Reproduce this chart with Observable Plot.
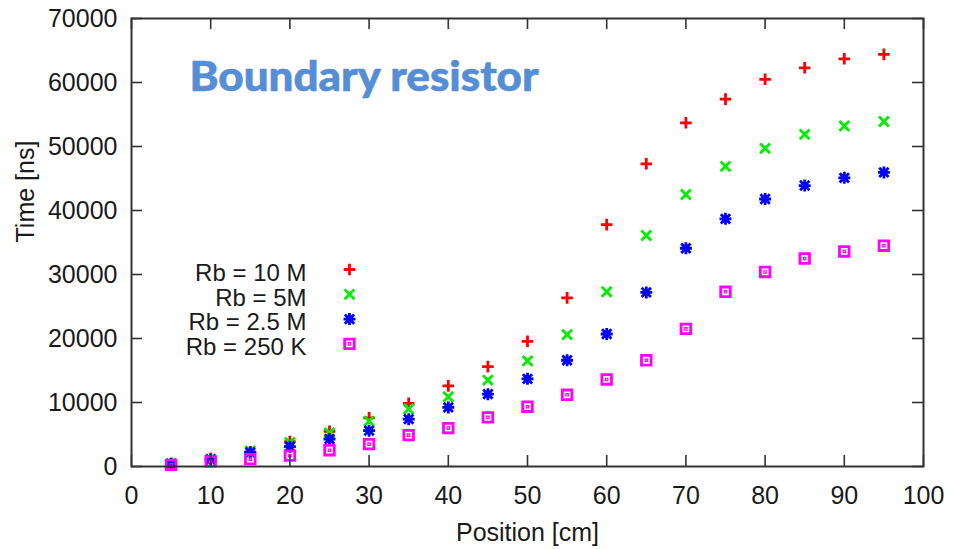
<!DOCTYPE html>
<html><head><meta charset="utf-8">
<script src="https://cdn.jsdelivr.net/npm/d3@7"></script>
<script src="https://cdn.jsdelivr.net/npm/@observablehq/plot@0.6"></script>
<style>body{margin:0;background:#fff;}#chart svg{display:block;}</style>
</head><body><div id="chart"></div>
<script>
const positions = [5,10,15,20,25,30,35,40,45,50,55,60,65,70,75,80,85,90,95];
const rb10M  = [500,1250,2300,3900,5500,7600,9860,12600,15600,19560,26350,37800,47300,53700,57400,60500,62300,63700,64400];
const rb5M   = [450,1150,2450,3750,5250,7100,8980,10900,13500,16500,20600,27300,36100,42500,46900,49700,51900,53200,53900];
const rb2_5M = [400,1100,2200,3100,4300,5600,7400,9230,11300,13700,16600,20700,27200,34100,38700,41800,43900,45100,45950];
const rb250K = [250,800,1150,1700,2550,3500,4900,6000,7670,9340,11200,13600,16600,21500,27300,30400,32500,33600,34500];
const seriesNames = ["Rb = 10 M","Rb = 5M","Rb = 2.5 M","Rb = 250 K"];
const seriesValues = [rb10M, rb5M, rb2_5M, rb250K];
const seriesColors = ["#ff0000","#00ee00","#0000ff","#ff00ff"];
const xTicks = [0,10,20,30,40,50,60,70,80,90,100];
const yTicks = [0,10000,20000,30000,40000,50000,60000,70000];
const titleText = "Boundary resistor";
const xLabel = "Position [cm]";
const yLabel = "Time [ns]";

// gnuplot-like point symbols (half-extent = r)
const rad = s => Math.sqrt(s / Math.PI);
const plusSym = {draw(c, s){const r=rad(s); c.moveTo(-r,0);c.lineTo(r,0);c.moveTo(0,-r);c.lineTo(0,r);}};
const timesSym = {draw(c, s){const r=rad(s)*0.85; c.moveTo(-r,-r);c.lineTo(r,r);c.moveTo(-r,r);c.lineTo(r,-r);}};
const starSym = {draw(c, s){const r=rad(s); const q=r*0.78; c.moveTo(-r,0);c.lineTo(r,0);c.moveTo(0,-r);c.lineTo(0,r);c.moveTo(-q,-q);c.lineTo(q,q);c.moveTo(-q,q);c.lineTo(q,-q);}};
const boxSym = {draw(c, s){const r=rad(s); c.rect(-r,-r,2*r,2*r);}};
const symbols = [plusSym, timesSym, starSym, boxSym];
const symR = [5.8, 5.8, 6, 4.8];

const rows = seriesValues.map((vals, i) => positions.map((p, j) => ({pos: p, time: vals[j], s: i})));

const font = "Liberation Sans, Arial, sans-serif";
const ink = "#1a1a1a";
const marks = [];

// data points
rows.forEach((data, i) => {
  marks.push(Plot.dot(data, {x: "pos", y: "time", symbol: symbols[i], r: symR[i], stroke: seriesColors[i], fill: "none", strokeWidth: 2.8}));
  if (i === 3) marks.push(Plot.dot(data, {x: "pos", y: "time", symbol: boxSym, r: 1.2, stroke: seriesColors[i], fill: "none", strokeWidth: 1.2}));
});

// frame and inward ticks (mirrored)
const frameH = 549 - 18 - 83, frameW = 953 - 131 - 30, tl = 11;
marks.push(Plot.ruleX(xTicks, {x: d => d, insetTop: frameH - tl, stroke: "#333", strokeWidth: 1.6}));
marks.push(Plot.ruleX(xTicks, {x: d => d, insetBottom: frameH - tl, stroke: "#333", strokeWidth: 1.6}));
marks.push(Plot.ruleY(yTicks, {y: d => d, insetRight: frameW - tl, stroke: "#333", strokeWidth: 1.6}));
marks.push(Plot.ruleY(yTicks, {y: d => d, insetLeft: frameW - tl, stroke: "#333", strokeWidth: 1.6}));
marks.push(Plot.frame({stroke: "#333", strokeWidth: 2}));

// axes
marks.push(Plot.axisX(xTicks, {tickSize: 0, tickPadding: 20, fontSize: 25, fill: ink, label: null}));
marks.push(Plot.axisY(yTicks, {tickSize: 0, tickPadding: 14, fontSize: 25, fill: ink, label: null, tickFormat: d3.format("d")}));
marks.push(Plot.text([xLabel], {text: d => d, frameAnchor: "bottom", dy: 74, lineAnchor: "bottom", fontSize: 25, fill: ink}));
marks.push(Plot.text([yLabel], {text: d => d, frameAnchor: "left", dx: -106, rotate: -90, lineAnchor: "middle", fontSize: 25, fill: ink}));

// legend
seriesNames.forEach((name, i) => {
  marks.push(Plot.text([name], {text: d => d, frameAnchor: "top-left", dx: 175, dy: 254.7 + i * 24.7, textAnchor: "end", lineAnchor: "middle", fontSize: 24, fill: ink}));
  marks.push(Plot.dot([name], {frameAnchor: "top-left", dx: 218, dy: 251 + i * 24.8, symbol: symbols[i], r: symR[i], stroke: seriesColors[i], fill: "none", strokeWidth: 2.8}));
  if (i === 3) marks.push(Plot.dot([name], {frameAnchor: "top-left", dx: 218, dy: 251 + i * 24.8, symbol: boxSym, r: 1.2, stroke: seriesColors[i], fill: "none", strokeWidth: 1.2}));
});

// title
marks.push(Plot.text([titleText], {text: d => d, frameAnchor: "top-left", dx: 58, dy: 72, textAnchor: "start", lineAnchor: "bottom", fontSize: 41, fontWeight: 900, fontFamily: "Lato", fill: "#558ED5", stroke: "#558ED5", strokeWidth: 0.6}));

const chart = Plot.plot({
  width: 953, height: 549,
  marginLeft: 131, marginRight: 30, marginTop: 18, marginBottom: 83,
  x: {domain: [0, 100]},
  y: {domain: [0, 70000]},
  style: {fontFamily: font, background: "#fff", color: ink, overflow: "visible"},
  marks
});
document.getElementById("chart").appendChild(chart);
d3.select(chart).selectAll("text").filter(function(){ return this.textContent === titleText; })
  .attr("textLength", 349).attr("lengthAdjust", "spacingAndGlyphs");
</script>
</body></html>
